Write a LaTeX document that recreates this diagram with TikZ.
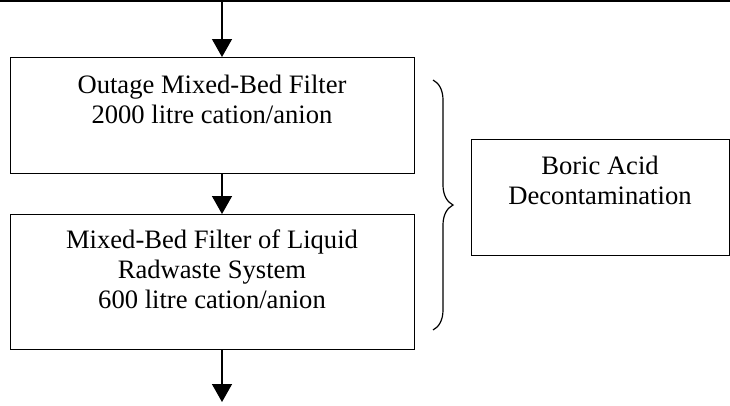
\documentclass[tikz,border=0pt]{standalone}
\usepackage{fontspec}
\setmainfont{Liberation Serif}
\usetikzlibrary{arrows.meta,decorations.pathreplacing}
\begin{document}
\begin{tikzpicture}[x=1pt,y=-1pt,
  box/.style={draw,line width=1.3pt,rectangle,inner sep=0pt,anchor=north west},
  boxtext/.style={anchor=north,inner sep=0pt,align=center,font=\fontsize{26.6}{30}\selectfont},
  flow/.style={line width=1.4pt,-{Triangle[width=20pt,length=18pt]}}]
\useasboundingbox (0,0) rectangle (730,405);
% feed line across the top
\draw[line width=1.5pt] (0,1) coordinate (l0) -- (730,1) coordinate (l1);
% process boxes
\node[box,minimum width=404pt,minimum height=116pt] (b1) at (10,57) {};
\node[box,minimum width=404pt,minimum height=135pt] (b2) at (10,214) {};
\node[box,minimum width=258pt,minimum height=116pt] (b3) at (471,139) {};
\node[boxtext] (t1) at (212,75) {Outage Mixed-Bed Filter\\2000 litre cation/anion};
\node[boxtext] (t2) at (212,230) {Mixed-Bed Filter of Liquid\\Radwaste System\\600 litre cation/anion};
\node[boxtext] (t3) at (600,156) {Boric Acid\\Decontamination};
% flow arrows
\coordinate (in) at (222,1);
\coordinate (out) at (222,402);
\draw[flow] (in) -- (in |- b1.north);
\draw[flow] (222,0 |- b1.south) coordinate (m1) -- (m1 |- b2.north);
\draw[flow] (222,0 |- b2.south) coordinate (m2) -- (out);
% brace grouping both filters
\coordinate (br1) at (433,80);
\coordinate (br2) at (433,330);
\draw[line width=1.2pt,decorate,decoration={brace,amplitude=20pt}] (br1) -- (br2);
\end{tikzpicture}
\end{document}
